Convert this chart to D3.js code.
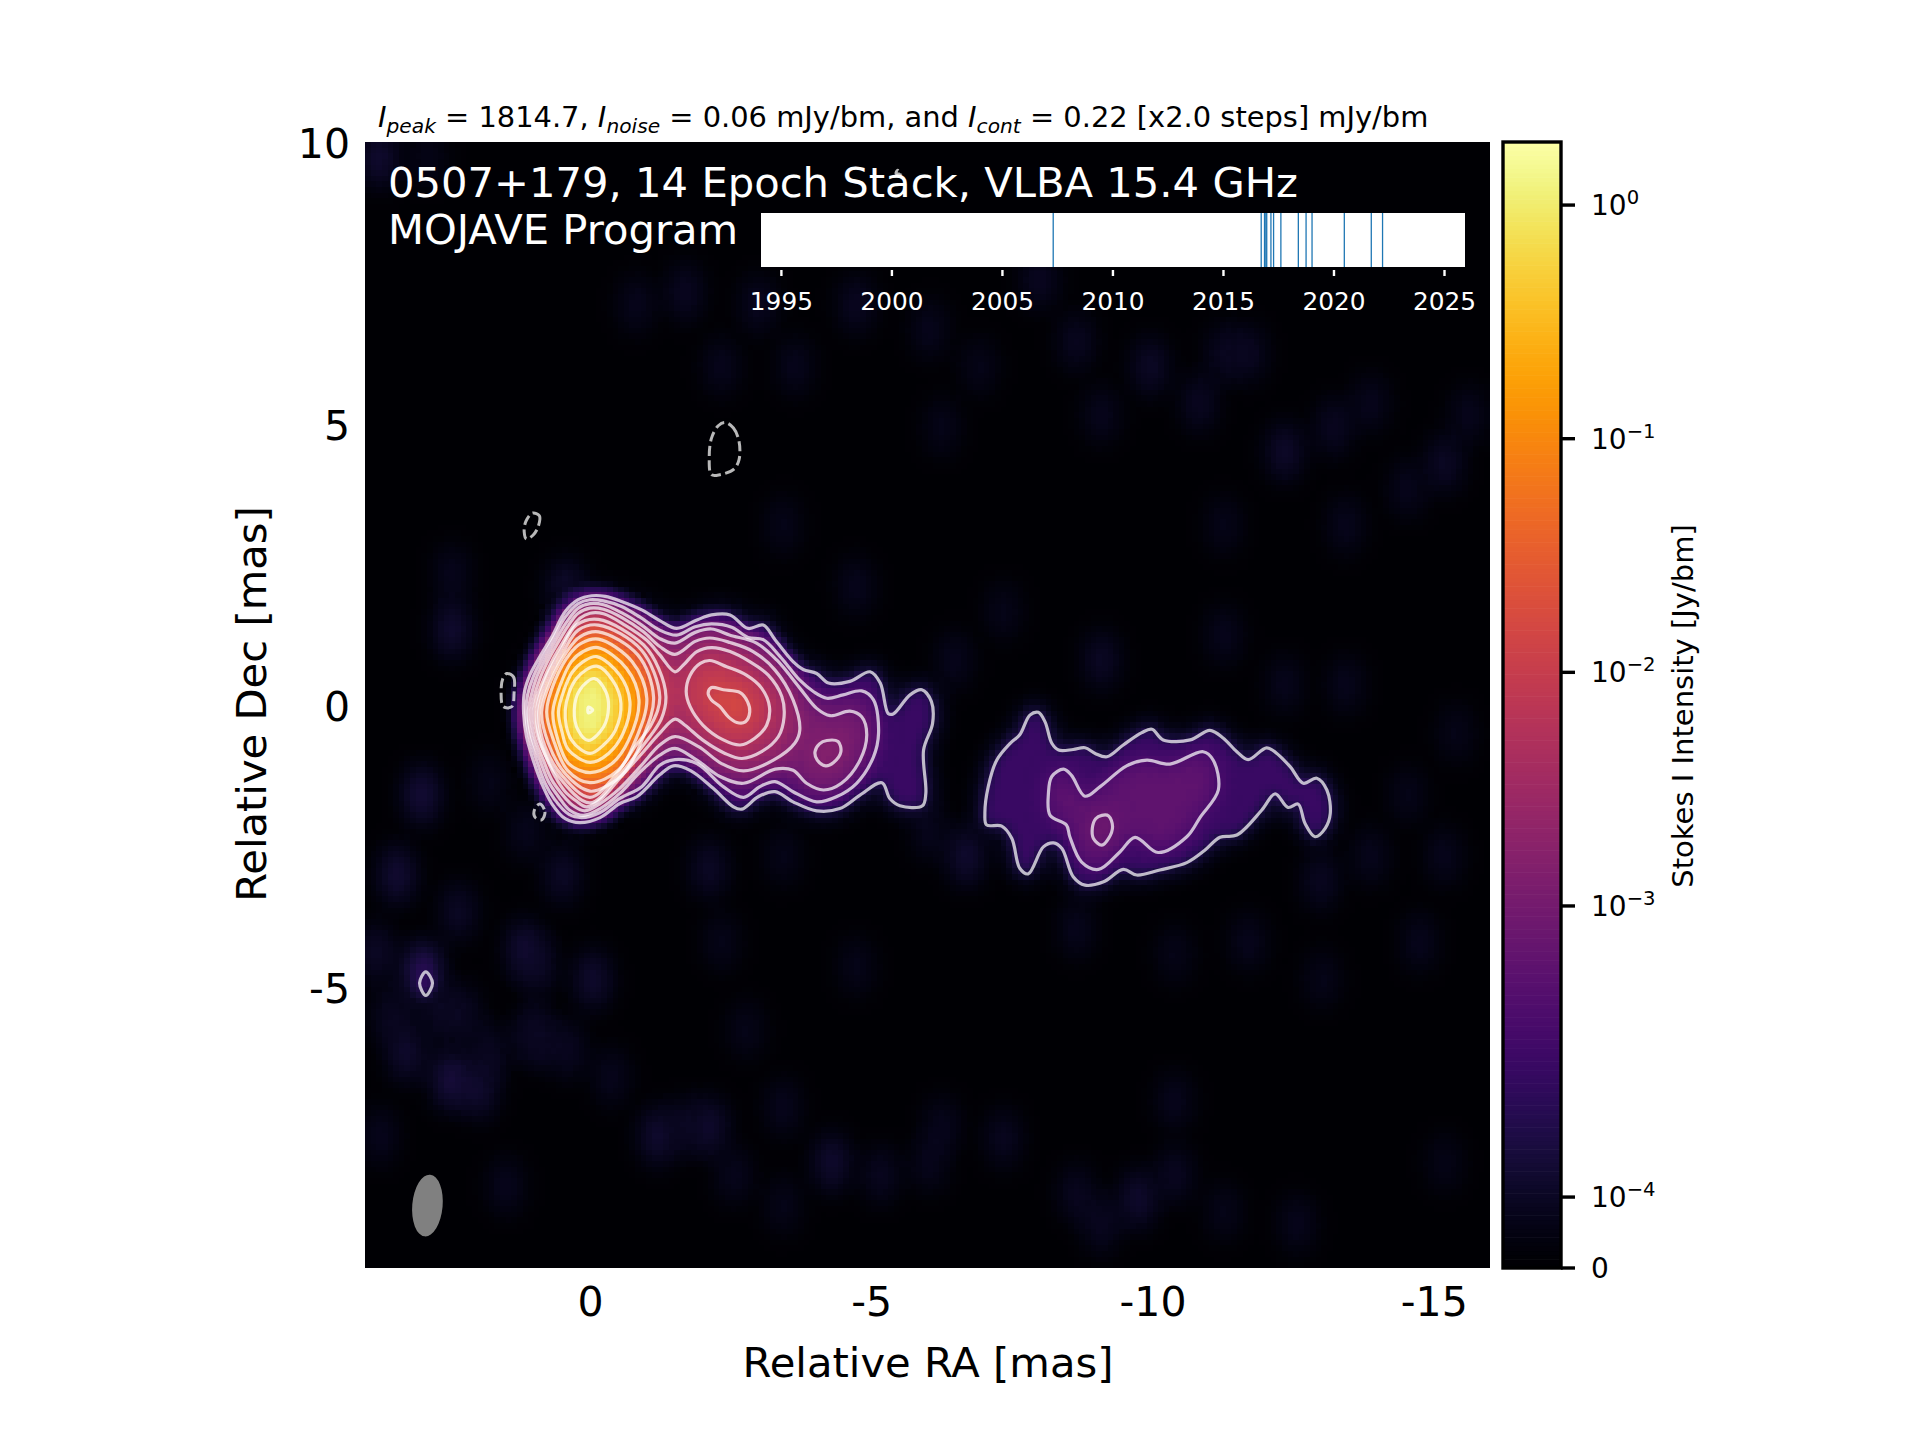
<!DOCTYPE html>
<html>
<head>
<meta charset="utf-8">
<script src="https://cdn.jsdelivr.net/npm/d3@7"></script>
<style>
  body { margin: 0; background: #fff; }
  text { font-family: "DejaVu Sans", sans-serif; }
</style>
</head>
<body>
<svg id="chart" width="1920" height="1440"></svg>
<script>
// contour levels in mJy/bm, x2 steps from 0.22
const levels = [0.22, 0.44, 0.88, 1.76, 3.52, 7.04, 14.08, 28.16, 56.3, 112.6, 225.3, 450.6, 901.1, 1802.2];
const peak = 1814.7;

// contours as [RA, Dec] in mas
const level0main = [[1.18,-.15],[1.17,.21],[1.07,.53],[.89,.86],[.68,1.21],[.44,1.66],[.21,1.87],[-.03,1.94],[-.27,1.93],[-.56,1.84],[-.92,1.69],[-1.24,1.50],[-1.54,1.36],[-1.90,1.51],[-2.16,1.60],[-2.49,1.60],[-2.81,1.36],[-3.08,1.42],[-3.29,1.16],[-3.61,.77],[-3.79,.63],[-4.03,.56],[-4.24,.39],[-4.62,.42],[-4.98,.59],[-5.16,.39],[-5.30,-.15],[-5.39,-.16],[-5.69,.18],[-5.90,.27],[-6.07,.06],[-6.09,-.33],[-5.93,-.80],[-5.97,-1.57],[-5.91,-1.79],[-5.51,-1.79],[-5.33,-1.66],[-5.19,-1.38],[-4.80,-1.60],[-4.44,-1.84],[-4.03,-1.88],[-3.61,-1.72],[-3.29,-1.54],[-2.99,-1.63],[-2.70,-1.85],[-2.55,-1.81],[-2.19,-1.48],[-1.78,-1.16],[-1.48,-1.08],[-1.24,-1.24],[-.83,-1.63],[-.53,-1.75],[-.18,-2.0],[.18,-2.09],[.44,-2.02],[.68,-1.75],[.86,-1.39],[1.01,-.98],[1.13,-.56]];
const level0tail = [[-7.02,-1.93],[-7.08,-1.45],[-7.23,-.98],[-7.47,-.68],[-7.64,-.53],[-7.82,-.18],[-7.97,-.13],[-8.09,-.30],[-8.21,-.68],[-8.33,-.80],[-8.59,-.79],[-8.80,-.76],[-8.98,-.86],[-9.19,-.92],[-9.48,-.71],[-9.81,-.49],[-9.99,-.43],[-10.19,-.62],[-10.67,-.62],[-11.02,-.45],[-11.26,-.59],[-11.50,-.83],[-11.70,-.97],[-12.03,-.76],[-12.21,-.86],[-12.45,-1.10],[-12.68,-1.39],[-12.92,-1.30],[-13.10,-1.51],[-13.16,-1.93],[-13.07,-2.19],[-12.89,-2.34],[-12.71,-2.10],[-12.59,-1.76],[-12.41,-1.82],[-12.18,-1.58],[-11.94,-1.87],[-11.50,-2.31],[-11.20,-2.35],[-10.93,-2.58],[-10.61,-2.80],[-10.13,-2.93],[-9.72,-3.02],[-9.48,-2.92],[-9.13,-3.14],[-8.80,-3.20],[-8.59,-3.05],[-8.39,-2.55],[-8.24,-2.45],[-8.06,-2.52],[-7.79,-3.0],[-7.64,-2.90],[-7.50,-2.37],[-7.32,-2.15],[-7.05,-2.13]];
const level0spot = [[2.92,-4.74],[2.80,-4.94],[2.92,-5.16],[3.03,-4.94]];
const level1main = [[1.14,-.15],[1.11,.18],[1.01,.50],[.83,.86],[.62,1.24],[.44,1.56],[.21,1.80],[0,1.87],[-.24,1.85],[-.56,1.75],[-.89,1.56],[-1.24,1.33],[-1.54,1.24],[-1.87,1.39],[-2.16,1.44],[-2.52,1.38],[-2.81,1.20],[-3.08,1.16],[-3.38,.86],[-3.73,.44],[-3.97,.24],[-4.21,.12],[-4.50,.18],[-4.83,.25],[-5.04,.09],[-5.13,-.50],[-5.04,-.92],[-4.74,-1.39],[-4.38,-1.63],[-4.03,-1.72],[-3.61,-1.54],[-3.29,-1.36],[-3.02,-1.45],[-2.73,-1.64],[-2.37,-1.45],[-1.90,-1.04],[-1.51,-.97],[-1.24,-1.07],[-.92,-1.45],[-.53,-1.66],[-.18,-1.91],[.15,-2.0],[.38,-1.94],[.62,-1.69],[.80,-1.39],[.95,-.98],[1.08,-.56]];
const level1tail = [[-8.15,-1.57],[-8.21,-1.27],[-8.42,-1.14],[-8.56,-1.25],[-8.80,-1.62],[-9.07,-1.45],[-9.54,-1.08],[-9.90,-.98],[-10.31,-1.05],[-10.90,-.83],[-11.08,-.98],[-11.17,-1.51],[-10.85,-1.99],[-10.61,-2.34],[-10.10,-2.62],[-9.69,-2.35],[-9.42,-2.61],[-9.04,-2.92],[-8.74,-2.79],[-8.53,-2.34],[-8.47,-2.13],[-8.18,-1.96]];
const level2main = [[1.10,-.15],[1.05,.15],[.95,.49],[.77,.86],[.56,1.24],[.41,1.48],[.21,1.72],[0,1.80],[-.24,1.78],[-.56,1.64],[-.92,1.42],[-1.24,1.18],[-1.51,1.10],[-1.87,1.29],[-2.16,1.35],[-2.49,1.24],[-2.96,1.10],[-3.32,.80],[-3.73,.30],[-4.03,-.06],[-4.27,-.19],[-4.62,-.11],[-4.83,-.21],[-4.92,-.53],[-4.80,-.98],[-4.47,-1.39],[-4.15,-1.51],[-3.85,-1.39],[-3.61,-1.16],[-3.29,-1.14],[-2.73,-1.39],[-2.31,-1.27],[-1.90,-.98],[-1.51,-.77],[-1.24,-.89],[-.89,-1.19],[-.53,-1.57],[-.18,-1.84],[.12,-1.96],[.36,-1.87],[.56,-1.63],[.74,-1.36],[.89,-.98],[1.04,-.56]];
const level2tail = [[-9.10,-1.96],[-9.22,-1.97],[-9.29,-2.16],[-9.22,-2.37],[-9.10,-2.49],[-8.95,-2.37],[-8.93,-2.19],[-8.99,-2.02]];
const level3main = [[1.05,-.15],[1.0,.12],[.89,.47],[.71,.86],[.51,1.21],[.38,1.42],[.21,1.63],[0,1.72],[-.24,1.70],[-.59,1.54],[-.95,1.30],[-1.24,1.04],[-1.51,.90],[-1.87,1.13],[-2.13,1.19],[-2.49,1.11],[-2.90,.95],[-3.29,.62],[-3.61,.09],[-3.73,-.44],[-3.64,-.68],[-3.26,-.98],[-2.73,-1.17],[-2.34,-1.04],[-1.93,-.74],[-1.51,-.56],[-1.24,-.71],[-.89,-1.10],[-.53,-1.48],[-.18,-1.75],[.09,-1.88],[.31,-1.78],[.50,-1.58],[.68,-1.33],[.83,-.98],[.99,-.56]];
const level3knot = [[-4.21,-.63],[-4.41,-.65],[-4.46,-.83],[-4.33,-1.02],[-4.19,-1.08],[-4.04,-.98],[-4.0,-.83],[-4.08,-.69]];
const level4main = [[1.0,-.15],[.95,.12],[.83,.44],[.65,.83],[.46,1.15],[.35,1.33],[.18,1.54],[0,1.63],[-.24,1.62],[-.62,1.42],[-1.01,1.15],[-1.24,.89],[-1.51,.59],[-1.66,.71],[-1.90,.95],[-2.16,1.02],[-2.49,.95],[-2.84,.77],[-3.17,.53],[-3.41,.15],[-3.45,-.21],[-3.35,-.56],[-3.05,-.83],[-2.70,-.95],[-2.40,-.86],[-2.0,-.62],[-1.69,-.36],[-1.51,-.25],[-1.24,-.50],[-.95,-.83],[-.53,-1.30],[-.21,-1.66],[.06,-1.81],[.25,-1.70],[.44,-1.54],[.62,-1.27],[.77,-.95],[.93,-.56]];
const level5core = [[-.15,1.52],[-.95,1.07],[-1.22,.65],[-1.35,.15],[-1.27,-.24],[-.95,-.71],[-.50,-1.27],[0,-1.74],[.56,-1.27],[.85,-.74],[.95,-.12],[.80,.44],[.53,.95],[.24,1.42]];
const level5knot = [[-2.13,.79],[-2.43,.68],[-2.78,.53],[-3.05,.30],[-3.19,-.03],[-3.14,-.36],[-2.93,-.59],[-2.67,-.71],[-2.37,-.62],[-2.01,-.36],[-1.78,-.03],[-1.71,.24],[-1.78,.53],[-1.96,.74]];
const level6core = [[-.15,1.42],[-.91,.98],[-1.24,.15],[-1.10,-.33],[-.80,-.74],[-.45,-1.25],[0,-1.64],[.50,-1.25],[.80,-.74],[.91,-.12],[.74,.44],[.47,.95],[.21,1.33]];
const level6knot = [[-2.16,.31],[-2.37,.27],[-2.67,.22],[-2.80,.06],[-2.84,-.12],[-2.76,-.30],[-2.61,-.31],[-2.46,-.21],[-2.31,-.03],[-2.16,.09],[-2.10,.21]];
const level7 = [[-.15,1.30],[-.85,.89],[-1.13,.14],[-.95,-.56],[-.62,-1.19],[-.33,-1.42],[0,-1.53],[.44,-1.22],[.74,-.68],[.86,-.12],[.69,.44],[.41,.95],[.18,1.21]];
const level8 = [[-.15,1.17],[-.75,.77],[-1.01,.12],[-.81,-.62],[-.50,-1.16],[0,-1.38],[.40,-1.16],[.65,-.62],[.77,-.12],[.62,.44],[.35,.92],[.15,1.10]];
const level9 = [[-.14,1.02],[-.65,.65],[-.87,.09],[-.69,-.62],[-.39,-1.04],[0,-1.20],[.38,-1.04],[.57,-.62],[.66,-.12],[.53,.35],[.33,.77],[.12,.95]];
const level10 = [[-.12,.86],[-.53,.53],[-.71,.06],[-.59,-.50],[-.33,-.86],[0,-1.02],[.38,-.80],[.50,-.47],[.56,-.12],[.46,.27],[.31,.59],[.12,.77]];
const level11 = [[-.12,.69],[-.42,.41],[-.55,.03],[-.45,-.45],[-.24,-.71],[0,-.86],[.33,-.62],[.44,-.09],[.24,.47]];
const level12 = [[-.08,.47],[-.28,.24],[-.33,-.03],[-.24,-.39],[.03,-.63],[.21,-.45],[.28,-.09],[.18,.27]];
const level13 = [[.03,-.04],[-.05,-.09],[.03,-.14]];

// the dashed -0.22 mJy/bm contours
const negA = [[-2.40,5.02],[-2.55,4.92],[-2.65,4.68],[-2.65,4.36],[-2.56,4.19],[-2.31,4.09],[-2.16,4.09],[-2.12,4.41],[-2.16,4.74],[-2.28,4.96]];
const negB = [[1.02,3.41],[.90,3.36],[.92,3.17],[1.01,3.02],[1.13,2.95],[1.17,3.08],[1.14,3.26]];
const negC = [[1.48,.56],[1.36,.50],[1.35,.21],[1.39,-.03],[1.54,-.03],[1.58,.27],[1.55,.47]];
const negD = [[.89,-1.76],[.80,-1.90],[.86,-2.04],[.98,-1.99],[.98,-1.84]];
const negE = [[-5.47,9.50],[-5.53,9.44],[-5.44,9.44]];

// faint background patches
const noiseRa = [2.96,3.26,2.46,1.96,1.15,-.06,2.25,1.0,.4,-1.22,-2.13,3.73,1.48,-2.79,3.79,2.98,3.42,2.44,2.33,.91,-2.13,.48,-6.7,-13.0,-15.2,-14.76,-11.71,-8.66,-4.31,-3.44,-6.27,-9.75,-9.1,-12.58,-15.2,-10.4,-1.7,-2.35,-4.75,-8.0,-9.97,-11.71,-12.36,-15.2,-13.89,-9.1,-6.27,-13.45,-11.28,-3.44,3.74,2.87,2.44,-4.75,-9.1,-12.36,.42,-.83,-3.0,-3.66,-6.05,-6.92,-8.66,-10.84,-11.28,-13.23,-14.54,-15.63,2.66,1.78,.91,-.39,-1.70,-2.57,-3.44,-5.18,-6.05,-7.36,-8.66,-10.41,-11.28,3.53,-14.54,-13.89,-15.41,-6.49,-7.36,-11.28,-13.45,1.13,1.78,-3.44,-6.05,-10.41,-13.02,-4.75,-2.35];
const noiseDec = [-4.77,-6.19,-6.67,-6.84,-4.36,-4.89,-5.48,-5.84,-6.13,-7.67,-7.50,-7.67,-8.56,-5.78,-4.41,-1.61,-3.03,1.33,-3.68,-4.66,-2.92,-3.03,-2.7,-3.13,-2.7,-4.22,-4.22,-4.0,-8.14,-7.16,-7.49,-8.79,-9.23,-9.23,-8.14,-7.05,7.31,6.0,7.1,7.53,6.0,6.23,4.48,4.27,5.35,5.14,4.92,3.18,3.18,3.18,9.71,9.71,2.31,2.09,.78,.35,2.05,7.10,7.10,6.0,6.66,6.0,6.44,5.35,6.23,4.92,3.83,5.14,-5.53,-6.18,-5.96,-6.62,-7.49,-8.36,-8.90,-8.36,-8.14,-7.71,-8.69,-8.36,-9.01,-5.53,-1.61,-2.70,-.52,.78,1.65,1.22,.35,-2.26,-1.39,-2.70,-2.26,-4.44,-4.88,-4.66,-4.22];
const noiseFlux = [.3,.16,.21,.16,.18,.16,.12,.12,.12,.17,.16,.1,.1,.09,.14,.19,.18,.17,.13,.12,.14,.14,.17,.12,.1,.1,.1,.1,.16,.1,.1,.16,.12,.1,.08,.1,.12,.1,.12,.12,.14,.12,.15,.13,.1,.1,.09,.1,.09,.09,.17,.08,.1,.1,.13,.1,.16,.1,.11,.1,.1,.09,.11,.12,.11,.12,.1,.1,.11,.12,.1,.1,.11,.1,.09,.11,.1,.11,.11,.12,.09,.12,.09,.1,.09,.1,.09,.1,.1,.1,.09,.09,.1,.09,.09,.09,.09];

// [level index, contour]
const contourPieces = [
  [0, level0main], [0, level0tail], [0, level0spot],
  [1, level1main], [1, level1tail],
  [2, level2main], [2, level2tail],
  [3, level3main], [3, level3knot],
  [4, level4main],
  [5, level5core], [5, level5knot],
  [6, level6core], [6, level6knot],
  [7, level7], [8, level8], [9, level9], [10, level10],
  [11, level11], [12, level12], [13, level13]
];
const negativePieces = [negA, negB, negC, negD, negE];
const softness = [1, 1.8, 2, 2.2, 2.5, 2, 1.8, 1, 1, 1, 1, 1, 1.2, 1];

// observation dates
const epochs = [2007.32, 2016.73, 2016.88, 2016.94, 2016.98, 2017.17, 2017.29, 2017.62, 2018.41, 2018.76, 2019.03, 2020.49, 2021.71, 2022.22];
const epochTicks = [1995, 2000, 2005, 2010, 2015, 2020, 2025];
const raTicks = [0, -5, -10, -15];
const decTicks = [10, 5, 0, -5];
const barTicks = [1, 0.1, 0.01, 0.001, 0.0001, 0];
const barTickExp = ["0", "\u22121", "\u22122", "\u22123", "\u22124", null];

const svg = d3.select("#chart");
const x = d3.scaleLinear().domain([4, -16]).range([365, 1490]);
const y = d3.scaleLinear().domain([10, -10]).range([142, 1268]);

// colour norm of the image: linear below the threshold, log above it
const linThresh = 3.67e-4, vmax = 1.862, threshPos = 0.2312;
const normLin = d3.scaleLinear().domain([0, linThresh]).range([0, threshPos]);
const normLog = d3.scaleLog().domain([linThresh, vmax]).range([threshPos, 1]);
const norm = (v) => (v < linThresh ? normLin(v) : normLog(v));

// --- image: paint the levels as grey values, blur, then colour per pixel
const cells = 200, sub = 4, size = cells * sub;
const fieldCanvas = document.createElement("canvas");
fieldCanvas.width = fieldCanvas.height = size;
const ctx = fieldCanvas.getContext("2d", { willReadFrequently: true });
const fx = d3.scaleLinear().domain(x.domain()).range([0, size]);
const fy = d3.scaleLinear().domain(y.domain()).range([0, size]);
const grey = (mjy) => {
  const g = Math.round(norm(mjy / 1000) * 255);
  return `rgb(${g},${g},${g})`;
};
const fieldLine = d3.line().x((d) => fx(d[0])).y((d) => fy(d[1]))
  .curve(d3.curveCatmullRomClosed.alpha(0.5)).context(ctx);

ctx.fillStyle = "#000";
ctx.fillRect(0, 0, size, size);

ctx.globalCompositeOperation = "lighten";
ctx.filter = `blur(${2.4 * sub}px)`;
noiseRa.forEach((ra, i) => {
  ctx.fillStyle = grey(noiseFlux[i]);
  ctx.beginPath();
  ctx.ellipse(fx(ra), fy(noiseDec[i]), fx(-0.28) - fx(0), fy(-0.55) - fy(0), 0, 0, 2 * Math.PI);
  ctx.fill();
});

// glow just outside the lowest contour
ctx.filter = `blur(${1.6 * sub}px)`;
ctx.strokeStyle = grey(0.12);
ctx.lineWidth = fx(-0.45) - fx(0);
[level0main, level0tail].forEach((pts) => {
  ctx.beginPath();
  fieldLine(pts);
  ctx.stroke();
});

ctx.globalCompositeOperation = "source-over";
contourPieces.forEach(([lvl, pts]) => {
  ctx.filter = `blur(${softness[lvl] * sub}px)`;
  ctx.fillStyle = grey(lvl === 13 ? peak : levels[lvl] * 1.3);
  ctx.beginPath();
  fieldLine(pts);
  ctx.fill();
});
ctx.filter = "none";

const grid = ctx.getImageData(0, 0, size, size).data;
const imgCanvas = document.createElement("canvas");
imgCanvas.width = imgCanvas.height = cells;
const imgCtx = imgCanvas.getContext("2d");
const out = imgCtx.createImageData(cells, cells);
for (let j = 0; j < cells; j++) {
  for (let i = 0; i < cells; i++) {
    const px = j * sub + (sub >> 1), qx = i * sub + (sub >> 1);
    const t = grid[(px * size + qx) * 4] / 255;
    const c = d3.rgb(d3.interpolateInferno(t));
    const k = (j * cells + i) * 4;
    out.data[k] = c.r; out.data[k + 1] = c.g; out.data[k + 2] = c.b; out.data[k + 3] = 255;
  }
}
imgCtx.putImageData(out, 0, 0);

svg.append("image")
  .attr("x", x(4)).attr("y", y(10))
  .attr("width", x(-16) - x(4)).attr("height", y(-10) - y(10))
  .attr("preserveAspectRatio", "none")
  .style("image-rendering", "pixelated")
  .attr("href", imgCanvas.toDataURL());

// --- contours
const contourLine = d3.line().x((d) => x(d[0])).y((d) => y(d[1]))
  .curve(d3.curveCatmullRomClosed.alpha(0.5));

svg.append("g").selectAll("path").data(contourPieces).join("path")
  .attr("d", (d) => contourLine(d[1]))
  .attr("fill", "none").attr("stroke", "#fff").attr("stroke-opacity", 0.72).attr("stroke-width", 3.2);

svg.append("g").selectAll("path").data(negativePieces).join("path")
  .attr("d", (d) => contourLine(d))
  .attr("fill", "none").attr("stroke", "#fff").attr("stroke-opacity", 0.72).attr("stroke-width", 3)
  .attr("stroke-dasharray", "10 4.5");

// restoring beam
const beamRa = 2.89, beamDec = -8.89, beamW = 0.27, beamH = 0.55, beamTilt = 5;
svg.append("ellipse")
  .attr("cx", x(beamRa)).attr("cy", y(beamDec))
  .attr("rx", x(-beamW) - x(0)).attr("ry", y(-beamH) - y(0))
  .attr("transform", `rotate(${beamTilt} ${x(beamRa)} ${y(beamDec)})`)
  .attr("fill", "#808080");

// --- main axes, tick labels only
const axisX = svg.append("g").attr("transform", `translate(0,${y(-10)})`)
  .call(d3.axisBottom(x).tickValues(raTicks).tickSize(0).tickPadding(19).tickFormat(String));
const axisY = svg.append("g").attr("transform", `translate(${x(4)},0)`)
  .call(d3.axisLeft(y).tickValues(decTicks).tickSize(0).tickPadding(15).tickFormat(String));
[axisX, axisY].forEach((a) => {
  a.select(".domain").remove();
  a.selectAll("text").attr("font-size", 41).attr("font-family", "DejaVu Sans").attr("fill", "#000");
});
axisY.selectAll("text").attr("dy", "0.38em");

svg.append("text").attr("x", 928).attr("y", 1377).attr("text-anchor", "middle")
  .attr("font-size", 41.7).text("Relative RA [mas]");
svg.append("text").attr("transform", "translate(266,704) rotate(-90)").attr("text-anchor", "middle")
  .attr("font-size", 41.7).text("Relative Dec [mas]");

// title with math style subscripts
const titleParts = [
  ["I", "i"], ["peak", "s"], [" = 1814.7, ", "r"],
  ["I", "i"], ["noise", "s"], [" = 0.06 mJy/bm, and ", "r"],
  ["I", "i"], ["cont", "s"], [" = 0.22 [x2.0 steps] mJy/bm", "r"]
];
const title = svg.append("text").attr("x", 378).attr("y", 127).attr("font-size", 28.9).attr("xml:space", "preserve");
let lastSub = false;
titleParts.forEach(([s, kind]) => {
  const t = title.append("tspan").text(s).style("white-space", "pre");
  if (kind === "i") t.attr("font-style", "italic");
  if (kind === "s") t.attr("font-style", "italic").attr("font-size", 20.2).attr("dy", 6);
  else if (lastSub) t.attr("dy", -6);
  lastSub = kind === "s";
});

svg.append("text").attr("x", 388).attr("y", 197).attr("font-size", 41.7).attr("fill", "#fff")
  .text("0507+179, 14 Epoch Stack, VLBA 15.4 GHz");
svg.append("text").attr("x", 388).attr("y", 244).attr("font-size", 41.7).attr("fill", "#fff")
  .text("MOJAVE Program");

// --- epoch strip
const tx = d3.scaleLinear().domain([1994.1, 2025.95]).range([761, 1465]);
const stripTop = 213, stripBottom = 267;
svg.append("rect").attr("x", tx.range()[0]).attr("y", stripTop)
  .attr("width", tx.range()[1] - tx.range()[0]).attr("height", stripBottom - stripTop).attr("fill", "#fff");
svg.append("g").selectAll("line").data(epochs).join("line")
  .attr("x1", (d) => tx(d)).attr("x2", (d) => tx(d))
  .attr("y1", stripTop).attr("y2", stripBottom)
  .attr("stroke", "#1f77b4").attr("stroke-width", 1.3);
const axisT = svg.append("g").attr("transform", "translate(0,270)")
  .call(d3.axisBottom(tx).tickValues(epochTicks).tickSize(6).tickPadding(16).tickFormat(d3.format("d")));
axisT.select(".domain").remove();
axisT.selectAll("line").attr("stroke", "#fff").attr("stroke-width", 2.4);
axisT.selectAll("text").attr("font-size", 24.8).attr("font-family", "DejaVu Sans").attr("fill", "#fff");

// --- colour bar
const barLeft = 1503, barRight = 1561;
const barY = d3.scaleLinear().domain([0, 1]).range([y(-10), y(10)]);
const barSteps = d3.range(256);
svg.append("g").selectAll("rect").data(barSteps).join("rect")
  .attr("x", barLeft).attr("width", barRight - barLeft)
  .attr("y", (d) => barY((d + 1) / 256)).attr("height", (barY(0) - barY(1)) / 256 + 0.6)
  .attr("fill", (d) => d3.interpolateInferno(d / 255));
svg.append("rect").attr("x", barLeft).attr("y", barY(1))
  .attr("width", barRight - barLeft).attr("height", barY(0) - barY(1))
  .attr("fill", "none").attr("stroke", "#000").attr("stroke-width", 3.4);

const barTick = svg.append("g").selectAll("g").data(barTicks).join("g")
  .attr("transform", (d) => `translate(${barRight},${barY(norm(d))})`);
barTick.append("line").attr("x2", 14).attr("stroke", "#000").attr("stroke-width", 3.4);
const barLabel = barTick.append("text").attr("x", 30).attr("y", 10).attr("font-size", 28);
barLabel.each(function (d, i) {
  const label = d3.select(this);
  if (barTickExp[i] === null) { label.text("0"); return; }
  label.append("tspan").text("10");
  label.append("tspan").text(barTickExp[i]).attr("font-size", 19.6).attr("dy", -11);
});
svg.append("text").attr("transform", "translate(1693,706) rotate(-90)").attr("text-anchor", "middle")
  .attr("font-size", 29).text("Stokes I Intensity [Jy/bm]");
</script>
</body>
</html>
